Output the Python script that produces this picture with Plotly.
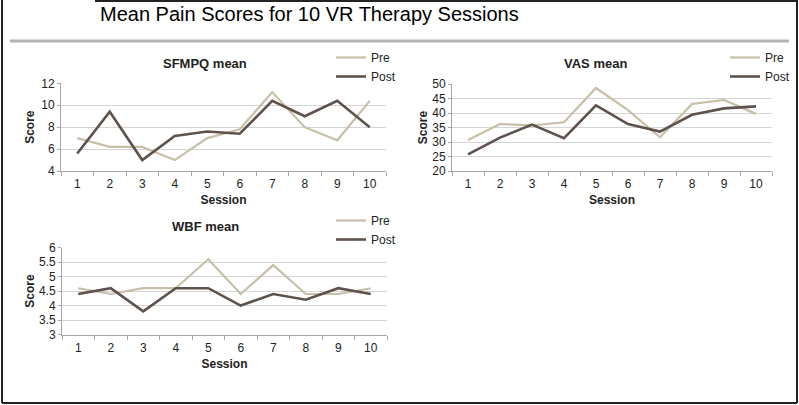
import plotly.graph_objects as go

W, H = 799, 405

sessions = ["1", "2", "3", "4", "5", "6", "7", "8", "9", "10"]

sfmpq_pre = [7.0, 6.2, 6.2, 5.0, 7.0, 7.8, 11.2, 8.0, 6.8, 10.4]
sfmpq_post = [5.6, 9.4, 5.0, 7.2, 7.6, 7.4, 10.4, 9.0, 10.4, 8.0]

vas_pre = [30.7, 36.2, 35.7, 36.8, 48.6, 41.0, 31.6, 43.1, 44.5, 39.7]
vas_post = [25.7, 31.5, 36.0, 31.3, 42.6, 36.2, 33.6, 39.4, 41.6, 42.3]

wbf_pre = [4.6, 4.4, 4.6, 4.6, 5.6, 4.4, 5.4, 4.4, 4.4, 4.6]
wbf_post = [4.4, 4.6, 3.8, 4.6, 4.6, 4.0, 4.4, 4.2, 4.6, 4.4]

main_title = "Mean Pain Scores for 10 VR Therapy Sessions"
panel_titles = ["SFMPQ mean", "VAS mean", "WBF mean"]

PRE_COLOR = "#c8bfa8"
POST_COLOR = "#5f524c"
FONT = "Liberation Sans, Arial, sans-serif"


def px(x):
    return x / W


def py(y):
    return 1 - y / H


fig = go.Figure()

panels = [
    (sfmpq_pre, sfmpq_post, "x", "y", "legend", (61, 386), (83.3, 171), [4, 12], 2),
    (vas_pre, vas_post, "x2", "y2", "legend2", (452, 772), (84, 171), [20, 50], 5),
    (wbf_pre, wbf_post, "x3", "y3", "legend3", (62, 387), (247.7, 334.5), [3, 6], 0.5),
]

for pre, post, xa, ya, lg, xd, yd, rng, dt in panels:
    fig.add_trace(go.Scatter(x=sessions, y=pre, mode="lines", name="Pre",
                             line=dict(color=PRE_COLOR, width=2.2),
                             xaxis=xa, yaxis=ya, legend=lg))
    fig.add_trace(go.Scatter(x=sessions, y=post, mode="lines", name="Post",
                             line=dict(color=POST_COLOR, width=2.6),
                             xaxis=xa, yaxis=ya, legend=lg))

axis_common_x = dict(
    type="category", tickson="boundaries", ticks="outside", ticklen=4,
    tickcolor="#a6a6a6", showline=True, linecolor="#a6a6a6", linewidth=1,
    showgrid=False, zeroline=False, tickfont=dict(family=FONT, size=12, color="#222"),
    range=[-0.5, 9.5], fixedrange=True, automargin=False, ticklabelstandoff=2,
)
axis_common_y = dict(
    ticks="outside", ticklen=3, tickcolor="#a6a6a6", showline=True,
    linecolor="#a6a6a6", linewidth=1, showgrid=True, gridcolor="#d4d4d4",
    gridwidth=1, zeroline=False, tickfont=dict(family=FONT, size=12, color="#222"),
    fixedrange=True, automargin=False,
)

layout_axes = {}
names = [("xaxis", "yaxis", "x", "y"), ("xaxis2", "yaxis2", "x2", "y2"),
         ("xaxis3", "yaxis3", "x3", "y3")]
ystand = [4, 2, 1]
for i, (pre, post, xa, ya, lg, xd, yd, rng, dt) in enumerate(panels):
    xn, yn, xr, yr = names[i]
    layout_axes[xn] = dict(axis_common_x, domain=[px(xd[0]), px(xd[1])], anchor=yr,
                           title=dict(text="<b>Session</b>", standoff=5,
                                      font=dict(family=FONT, size=12, color="#222")))
    layout_axes[yn] = dict(axis_common_y, domain=[py(yd[1]), py(yd[0])], anchor=xr,
                           range=rng, dtick=dt, tick0=rng[0],
                           title=dict(text="<b>Score</b>", standoff=ystand[i],
                                      font=dict(family=FONT, size=12, color="#222")))

legend_pos = [(331, 43), (725, 43), (331, 206)]
legends = {}
for i, (lx, ly) in enumerate(legend_pos):
    key = "legend" if i == 0 else f"legend{i+1}"
    legends[key] = dict(x=px(lx), y=py(ly), xanchor="left", yanchor="top",
                        xref="paper", yref="paper",
                        font=dict(family=FONT, size=12, color="#222"),
                        bgcolor="rgba(0,0,0,0)", borderwidth=0,
                        tracegroupgap=0, itemclick=False)

annotations = [
    dict(text=main_title, x=px(98), y=py(14), xref="paper", yref="paper",
         xanchor="left", yanchor="middle", showarrow=False,
         font=dict(family=FONT, size=20, color="#000")),
]
for t, (cx, cy) in zip(panel_titles, [(205, 63), (595, 63), (205, 227)]):
    annotations.append(dict(text=f"<b>{t}</b>", x=px(cx), y=py(cy), xref="paper",
                            yref="paper", xanchor="center", yanchor="middle",
                            showarrow=False,
                            font=dict(family=FONT, size=13, color="#222")))

shapes = [
    dict(type="line", xref="paper", yref="paper", x0=px(10), x1=px(789),
         y0=py(41), y1=py(41), line=dict(color="#b3b3b3", width=3)),
    dict(type="line", xref="paper", yref="paper", x0=px(2), x1=px(2),
         y0=py(0), y1=py(403), line=dict(color="#222", width=2)),
    dict(type="line", xref="paper", yref="paper", x0=px(2), x1=px(797),
         y0=py(403), y1=py(403), line=dict(color="#222", width=2)),
    dict(type="line", xref="paper", yref="paper", x0=px(797), x1=px(797),
         y0=py(0), y1=py(403), line=dict(color="#222", width=2)),
    dict(type="line", xref="paper", yref="paper", x0=px(95), x1=px(797),
         y0=py(1), y1=py(1), line=dict(color="#222", width=2)),
]

fig.update_layout(
    width=W, height=H,
    margin=dict(l=0, r=0, t=0, b=0, pad=0, autoexpand=False),
    paper_bgcolor="white", plot_bgcolor="white",
    font=dict(family=FONT, color="#222"),
    showlegend=True, annotations=annotations, shapes=shapes,
    **layout_axes, **legends,
)

fig.write_html("out.html", config={"displayModeBar": False},
               post_script="document.body.style.margin='0px';")
